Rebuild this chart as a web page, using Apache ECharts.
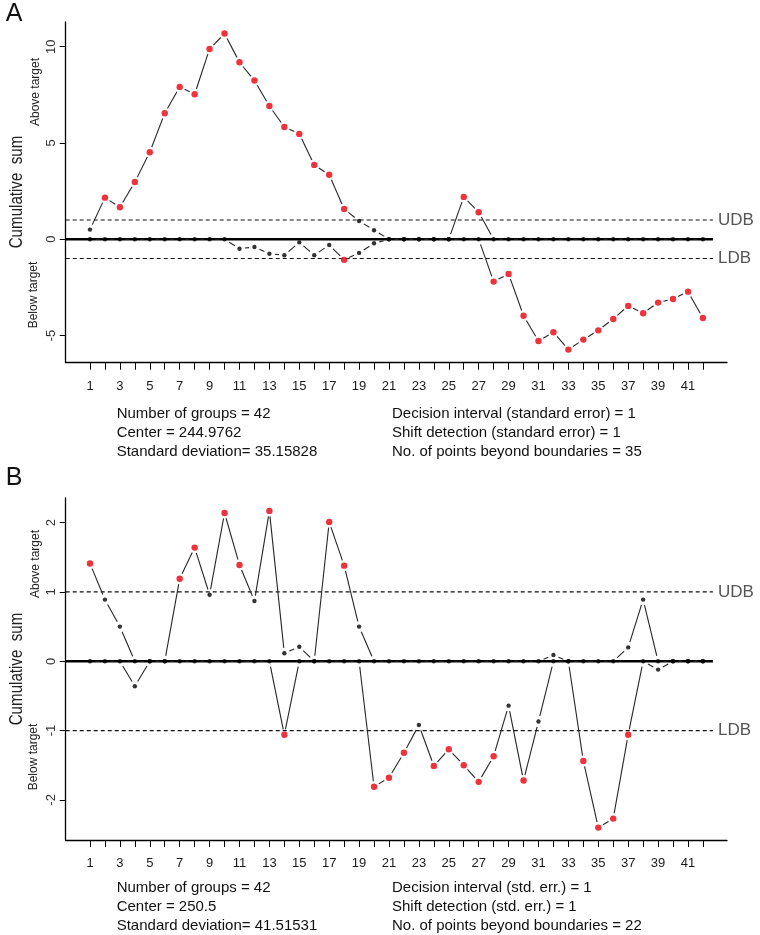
<!DOCTYPE html>
<html><head><meta charset="utf-8">
<script src="https://cdn.jsdelivr.net/npm/echarts@6/dist/echarts.min.js"></script>
<style>html,body{margin:0;padding:0;background:#fff}#c{width:760px;height:935px}</style>
</head><body><div id="c"></div>
<script>
// ---------------- data ----------------
const groups = [1,2,3,4,5,6,7,8,9,10,11,12,13,14,15,16,17,18,19,20,21,22,23,24,25,26,27,28,29,30,31,32,33,34,35,36,37,38,39,40,41,42];
const xTickLabels = [1,3,5,7,9,11,13,15,17,19,21,23,25,27,29,31,33,35,37,39,41];

const upperA = [0.50,2.16,1.66,2.97,4.52,6.54,7.91,7.53,9.88,10.68,9.19,8.24,6.92,5.83,5.47,3.86,3.35,1.57,0.95,0.47,
                0,0,0,0,0,2.20,1.40,0,0,0,0,0,0,0,0,0,0,0,0,0,0,0];
const lowerA = [0,0,0,0,0,0,0,0,0,0,-0.49,-0.40,-0.75,-0.83,-0.16,-0.83,-0.30,-1.07,-0.71,-0.21,
                0,0,0,0,0,0,0,-2.20,-1.80,-3.97,-5.28,-4.83,-5.73,-5.21,-4.73,-4.14,-3.46,-3.84,-3.29,-3.10,-2.72,-4.09];
const yTicksA = [-5,0,5,10];

const upperB = [1.41,0.89,0.50,0,0,0,1.19,1.64,0.96,2.14,1.39,0.87,2.17,0.115,0.21,0,2.01,1.38,0.50,0,
                0,0,0,0,0,0,0,0,0,0,0,0.09,0,0,0,0,0.20,0.89,0,0,0,0];
const lowerB = [0,0,0,-0.36,0,0,0,0,0,0,0,0,0,-1.06,0,0,0,0,0,-1.81,
                -1.68,-1.32,-0.92,-1.51,-1.27,-1.50,-1.74,-1.37,-0.64,-1.72,-0.87,0,0,-1.44,-2.40,-2.27,-1.06,0,-0.12,0,0,0];
const yTicksB = [-2,-1,0,1,2];

const boundaryValues = [1, -1];
const boundaryNames = ['UDB', 'LDB'];

const statsLeftA = ['Number of groups = 42', 'Center = 244.9762', 'Standard deviation= 35.15828'];
const statsRightA = ['Decision interval (standard error) = 1', 'Shift detection (standard error) = 1', 'No. of points beyond boundaries = 35'];
const statsLeftB = ['Number of groups = 42', 'Center = 250.5', 'Standard deviation= 41.51531'];
const statsRightB = ['Decision interval (std. err.) = 1', 'Shift detection (std. err.) = 1', 'No. of points beyond boundaries = 22'];

// ---------------- layout ----------------
const FONT = 'Liberation Sans, Arial, Helvetica, sans-serif';
const RED = '#e8000b';
const GAP = 5.5;
const XMIN = -0.625, XMAX = 43.61, XLINE_END = 42.67;
const GRID_LEFT = 65.7, GRID_W = 661.3;

const panels = [
  { letter: 'A', top: 22, height: 340.7, ymin: -6.41, ymax: 11.28, upper: upperA, lower: lowerA, yTicks: yTicksA,
    letterY: 14, sumY: 192, aboveY: 92, belowY: 295, statsY: [414.3, 433.3, 451.7], left: statsLeftA, right: statsRightA },
  { letter: 'B', top: 498, height: 342, ymin: -2.579, ymax: 2.356, upper: upperB, lower: lowerB, yTicks: yTicksB,
    letterY: 478, sumY: 669, aboveY: 564, belowY: 757, statsY: [887.7, 906.7, 925.7], left: statsLeftB, right: statsRightB }
];

function segRender(params, api) {
  const a = api.coord([api.value(0), api.value(1)]);
  const b = api.coord([api.value(2), api.value(3)]);
  const dx = b[0] - a[0], dy = b[1] - a[1];
  const L = Math.sqrt(dx * dx + dy * dy);
  if (L <= 2 * GAP) return { type: 'group', children: [] };
  const ux = dx / L, uy = dy / L;
  return {
    type: 'line',
    shape: { x1: a[0] + ux * GAP, y1: a[1] + uy * GAP, x2: b[0] - ux * GAP, y2: b[1] - uy * GAP },
    style: { stroke: '#262626', lineWidth: 1.1 }
  };
}

const grid = [], xAxis = [], yAxis = [], series = [], graphic = [];

panels.forEach((p, i) => {
  grid.push({ left: GRID_LEFT, top: p.top, width: GRID_W, height: p.height, containLabel: false, outerBoundsMode: 'none' });
  xAxis.push({
    gridIndex: i, type: 'value', min: XMIN, max: XMAX,
    axisLine: { show: true, onZero: false, lineStyle: { color: '#000', width: 1.3 } },
    axisTick: { show: true, customValues: groups, length: 7, lineStyle: { color: '#000', width: 1 } },
    axisLabel: { show: true, customValues: xTickLabels, margin: 17, fontSize: 13, color: '#1a1a1a', fontFamily: FONT },
    splitLine: { show: false }
  });
  yAxis.push({
    gridIndex: i, type: 'value', min: p.ymin, max: p.ymax,
    axisLine: { show: true, onZero: false, lineStyle: { color: '#000', width: 1.3 } },
    axisTick: { show: true, customValues: p.yTicks, length: 6, lineStyle: { color: '#000', width: 1 } },
    axisLabel: { show: true, customValues: p.yTicks, rotate: 90, margin: 8, fontSize: 13, color: '#333', fontFamily: FONT },
    splitLine: { show: false }
  });

  // center line
  series.push({
    type: 'line', xAxisIndex: i, yAxisIndex: i, symbol: 'none', silent: true, z: 2,
    data: [[XMIN, 0], [XLINE_END, 0]],
    lineStyle: { color: '#000', width: 2.6 }
  });
  // decision boundaries
  boundaryValues.forEach((bv, k) => {
    series.push({
      type: 'line', xAxisIndex: i, yAxisIndex: i, symbol: 'none', silent: true, z: 2,
      data: [[XMIN, bv], [XLINE_END, bv]],
      lineStyle: { color: '#111', width: 1.2, type: [4, 3] },
      endLabel: { show: true, formatter: boundaryNames[k], distance: 5, fontSize: 17, color: '#555', fontFamily: FONT }
    });
  });

  // connecting segments (type "b")
  [p.upper, p.lower].forEach(arr => {
    const segs = [];
    for (let j = 0; j < arr.length - 1; j++) segs.push([groups[j], arr[j], groups[j + 1], arr[j + 1]]);
    series.push({
      type: 'custom', xAxisIndex: i, yAxisIndex: i, silent: true, z: 3,
      renderItem: segRender, data: segs, encode: { x: [0, 2], y: [1, 3] }
    });
  });

  // points
  [p.upper, p.lower].forEach(arr => {
    series.push({
      type: 'scatter', xAxisIndex: i, yAxisIndex: i, silent: true, z: 5,
      data: arr.map((v, j) => {
        const out = Math.abs(v) > 1;
        return { value: [groups[j], v], symbolSize: out ? 6.4 : 4.4, itemStyle: { color: out ? RED : '#000' } };
      })
    });
  });

  // texts
  graphic.push({ type: 'text', x: 14, y: p.letterY, style: { text: p.letter, fontSize: 25, fontFamily: FONT, fill: '#111',
    align: 'center', verticalAlign: 'middle', textAlign: 'center', textVerticalAlign: 'middle' } });
  graphic.push({ type: 'text', x: 17.5, y: p.sumY, rotation: Math.PI / 2, scaleX: 0.84,
    style: { text: 'Cumulative  sum', fontSize: 18, fontFamily: FONT, fill: '#222',
      align: 'center', verticalAlign: 'middle', textAlign: 'center', textVerticalAlign: 'middle' } });
  graphic.push({ type: 'text', x: 36, y: p.aboveY, rotation: Math.PI / 2,
    style: { text: 'Above target', fontSize: 12, fontFamily: FONT, fill: '#222',
      align: 'center', verticalAlign: 'middle', textAlign: 'center', textVerticalAlign: 'middle' } });
  graphic.push({ type: 'text', x: 34, y: p.belowY, rotation: Math.PI / 2,
    style: { text: 'Below target', fontSize: 12, fontFamily: FONT, fill: '#222',
      align: 'center', verticalAlign: 'middle', textAlign: 'center', textVerticalAlign: 'middle' } });
  p.left.forEach((t, k) => graphic.push({ type: 'text', x: 116.7, y: p.statsY[k],
    style: { text: t, fontSize: 15, fontFamily: FONT, fill: '#111',
      align: 'left', verticalAlign: 'middle', textAlign: 'left', textVerticalAlign: 'middle' } }));
  p.right.forEach((t, k) => graphic.push({ type: 'text', x: 392, y: p.statsY[k],
    style: { text: t, fontSize: 15, fontFamily: FONT, fill: '#111',
      align: 'left', verticalAlign: 'middle', textAlign: 'left', textVerticalAlign: 'middle' } }));
});

const chart = echarts.init(document.getElementById('c'), null, { renderer: 'canvas' });
chart.setOption({
  backgroundColor: '#fff',
  animation: false,
  grid, xAxis, yAxis, series, graphic
});
</script>
</body></html>
